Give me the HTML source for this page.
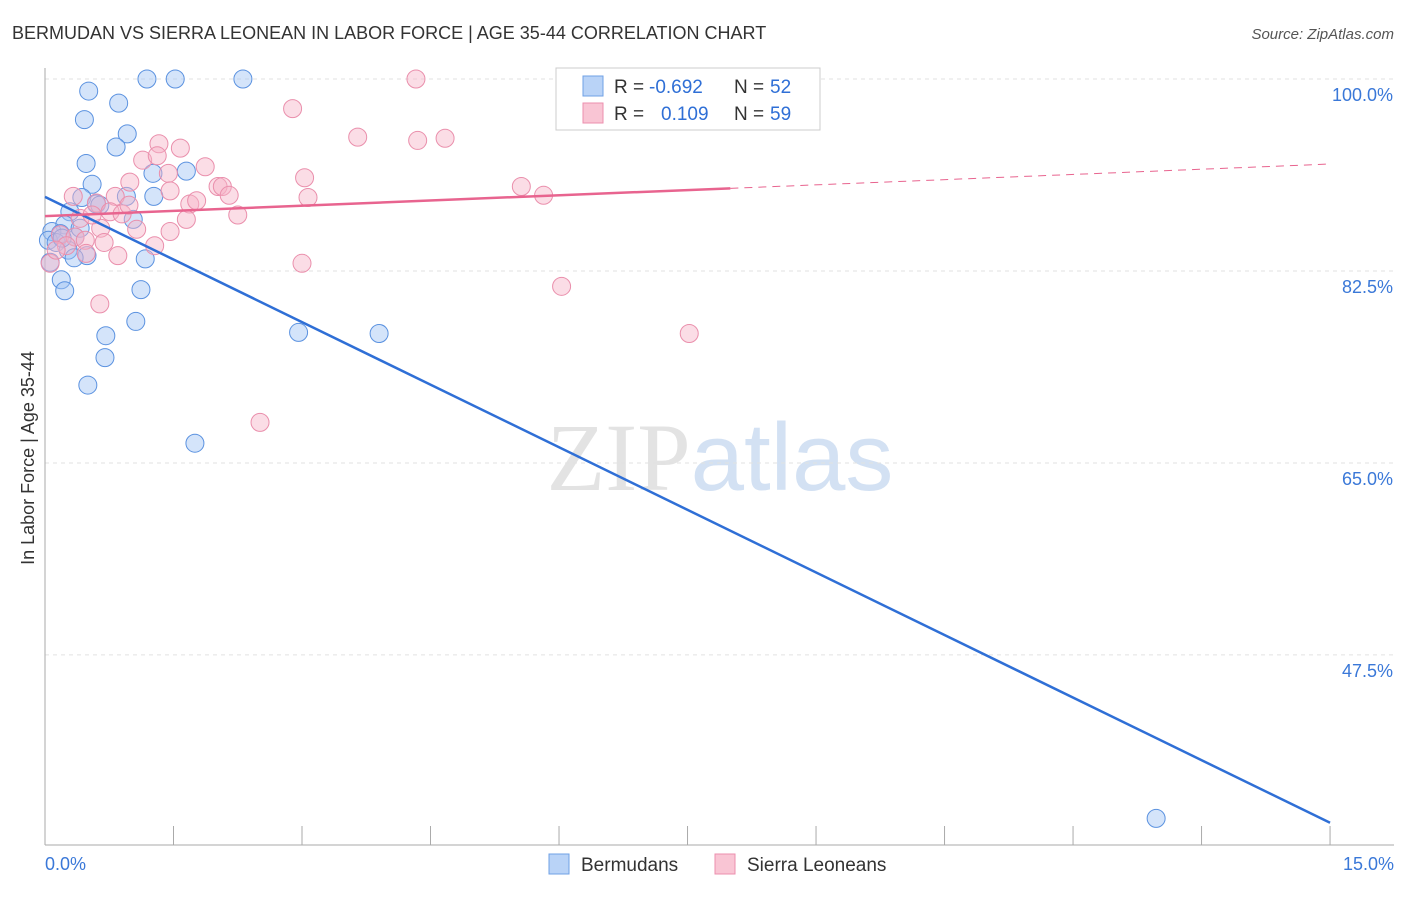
<!DOCTYPE html>
<html><head><meta charset="utf-8"><style>
body{margin:0;background:#fff;font-family:"Liberation Sans",sans-serif;}
svg text{font-family:"Liberation Sans",sans-serif;}
</style></head><body>
<svg id="chart" width="1406" height="892" xmlns="http://www.w3.org/2000/svg">
<text x="12" y="39" font-size="18" fill="#333">BERMUDAN VS SIERRA LEONEAN IN LABOR FORCE | AGE 35-44 CORRELATION CHART</text>
<text x="1394" y="39" font-size="15" fill="#555" text-anchor="end" font-style="italic">Source: ZipAtlas.com</text>
<text transform="translate(34,458) rotate(-90)" font-size="18" fill="#333" text-anchor="middle">In Labor Force | Age 35-44</text>
<text x="720" y="490" font-size="96" text-anchor="middle"><tspan fill="#e3e3e3" font-family="Liberation Serif">ZIP</tspan><tspan fill="#d3e1f3">atlas</tspan></text>
<g id="grid"></g><g id="axes"></g><g id="pts"></g><g id="lines"></g>
<g>
<rect x="556" y="68" width="264" height="62" fill="#fff" stroke="#ccc"/>
<rect x="583" y="76" width="20" height="20" fill="#b9d3f7" stroke="#6fa0e6"/>
<rect x="583" y="103" width="20" height="20" fill="#f9c5d4" stroke="#ec8fae"/>
<text x="614" y="93" font-size="19" fill="#333">R =</text>
<text x="649" y="93" font-size="19" fill="#2f6fd6">-0.692</text>
<text x="734" y="93" font-size="19" fill="#333">N =</text>
<text x="770" y="93" font-size="19" fill="#2f6fd6">52</text>
<text x="614" y="120" font-size="19" fill="#333">R =</text>
<text x="661" y="120" font-size="19" fill="#2f6fd6">0.109</text>
<text x="734" y="120" font-size="19" fill="#333">N =</text>
<text x="770" y="120" font-size="19" fill="#2f6fd6">59</text>
</g>
<g>
<rect x="549" y="854" width="20" height="20" fill="#b9d3f7" stroke="#6fa0e6"/>
<text x="581" y="871" font-size="19" fill="#333">Bermudans</text>
<rect x="715" y="854" width="20" height="20" fill="#f9c5d4" stroke="#ec8fae"/>
<text x="747" y="871" font-size="19" fill="#333">Sierra Leoneans</text>
</g>
</svg>
<script>
const yTicks=[100,82.5,65,47.5];
const yTickLabels=["100.0%","82.5%","65.0%","47.5%"];
const xTickLabels=["0.0%","15.0%"];
const blueX=[1.19,1.52,2.31,0.51,0.86,0.46,0.96,0.83,0.48,1.26,1.65,0.55,0.43,0.95,1.27,0.60,0.29,1.03,0.23,0.08,0.18,0.04,0.13,0.35,0.27,0.49,0.34,1.17,0.06,0.19,1.12,0.23,1.06,0.71,2.96,3.90,0.70,0.50,1.75,12.97,0.64,0.20,0.41];
const blueY=[100,100,100,98.9,97.8,96.3,95.0,93.8,92.3,91.4,91.6,90.4,89.2,89.3,89.3,88.6,87.9,87.2,86.7,86.1,85.9,85.3,85.1,85.6,84.4,83.9,83.7,83.6,83.3,81.7,80.8,80.7,77.9,76.6,76.9,76.8,74.6,72.1,66.8,32.6,88.5,85.5,86.4];
const pinkX=[4.33,2.89,3.65,4.35,4.67,1.33,1.58,1.14,1.31,1.87,1.44,3.03,2.02,2.07,1.46,0.82,0.33,0.99,5.56,5.82,3.07,2.15,1.69,1.77,0.60,0.76,0.90,2.25,1.65,0.41,1.07,1.46,0.65,0.18,0.35,0.47,0.69,1.28,0.25,0.48,0.85,0.06,3.00,6.03,0.64,2.51,7.52,0.98,0.13,0.55];
const pinkY=[100,97.3,94.7,94.4,94.6,94.1,93.7,92.6,93.0,92.0,91.4,91.0,90.2,90.2,89.8,89.3,89.3,90.6,90.2,89.4,89.2,89.4,88.6,88.9,88.7,87.9,87.7,87.6,87.2,87.3,86.3,86.1,86.4,85.8,85.6,85.3,85.1,84.8,84.8,84.1,83.9,83.2,83.2,81.1,79.5,68.7,76.8,88.5,84.4,87.6];
const blueTrend=[89.25,32.2];
const pinkTrend=[87.5,92.25];
const NS="http://www.w3.org/2000/svg";
const X=v=>45+v*85.67, Y=v=>79+(100-v)*10.97;
function mk(t,a,p){const e=document.createElementNS(NS,t);for(const k in a)e.setAttribute(k,a[k]);document.getElementById(p).appendChild(e);return e;}
yTicks.forEach((t,i)=>{
 const g=mk('line',{x1:45,x2:1394,y1:Y(t),y2:Y(t),stroke:'#e2e2e2','stroke-dasharray':'4,4'},'grid');
 
 
 const l=mk('text',{x:1393,y:Y(t)+22,'font-size':18,fill:'#3a78d8','text-anchor':'end'},'axes');l.textContent=yTickLabels[i];
 
 
});
let ax=mk('line',{x1:45,x2:45,y1:68,y2:845,stroke:'#aaa'},'axes');


ax=mk('line',{x1:45,x2:1394,y1:845,y2:845,stroke:'#aaa'},'axes');


for(let i=0;i<=10;i++){const t=mk('line',{x1:X(i*1.5),x2:X(i*1.5),y1:826,y2:845,stroke:'#aaa'},'axes');
 
 }
[[0,'start',45],[1,'end',1394]].forEach(([i,a,x])=>{const t=mk('text',{x:x,y:870,'font-size':18,fill:'#3a78d8','text-anchor':a},'axes');t.textContent=xTickLabels[i];
 
 });
blueX.forEach((v,i)=>{const c=mk('circle',{cx:X(v),cy:Y(blueY[i]),r:9,fill:'rgba(160,195,245,0.45)',stroke:'#5b92e0','stroke-width':1},'pts');
 
 });
pinkX.forEach((v,i)=>{const c=mk('circle',{cx:X(v),cy:Y(pinkY[i]),r:9,fill:'rgba(247,180,200,0.45)',stroke:'#ea8fac','stroke-width':1},'pts');
 
 });
let ln=mk('line',{x1:X(0),y1:Y(blueTrend[0]),x2:X(15),y2:Y(blueTrend[1]),stroke:'#2f6fd6','stroke-width':2.5},'lines');


const pAt=x=>pinkTrend[0]+(pinkTrend[1]-pinkTrend[0])*x/15;
ln=mk('line',{x1:X(0),y1:Y(pAt(0)),x2:X(8),y2:Y(pAt(8)),stroke:'#e8648f','stroke-width':2.5},'lines');


ln=mk('line',{x1:X(8),y1:Y(pAt(8)),x2:X(15),y2:Y(pAt(15)),stroke:'#e8648f','stroke-width':1,'stroke-dasharray':'8,6'},'lines');


</script>
</body></html>
